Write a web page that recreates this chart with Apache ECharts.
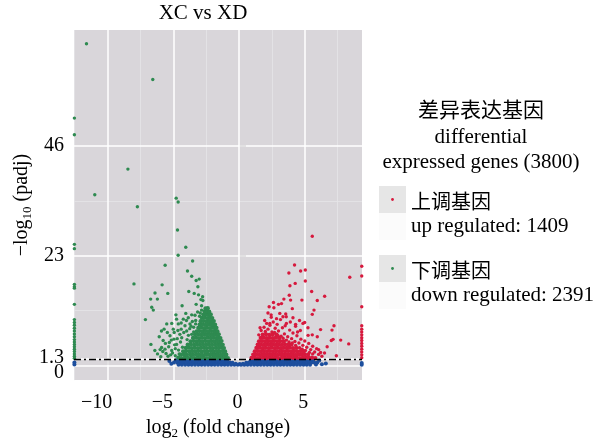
<!DOCTYPE html>
<html><head><meta charset="utf-8">
<script src="https://cdn.jsdelivr.net/npm/echarts@6/dist/echarts.min.js"></script>
<style>html,body{margin:0;padding:0;background:#fff}#c{width:596px;height:445px}</style>
</head><body><div id="c"></div>
<script>
// ---------- axis ticks / grid ----------
const xTicks = [-10, -5, 0, 5];
const yTicks = [0, 1.3, 23, 46];
const yLabelsUpper = [1.3, 23, 46];
const yLabelsLower = [0];
const xMinor = [-12.5, -7.5, -2.5, 2.5, 7.5];
const yMinor = [11.5, 34.5];
const threshold = 1.3;
const titleText = 'XC vs XD';
const legendHeader = ['差异表达基因', 'differential', 'expressed genes (3800)'];
const upLabel = ['上调基因', 'up regulated: 1409'];
const downLabel = ['下调基因', 'down regulated: 2391'];

// ---------- down regulated (green) ----------
const downSparse = [[-11.6,67.5],[-6.56,60.0],[-12.52,51.9],[-12.52,48.4],[-8.45,41.2],[-10.97,35.8],[-7.73,33.3],[-4.78,35.1],[-4.63,34.3],[-4.68,28.4],[-4.05,24.8],[-4.63,23.1],[-12.52,25.4],[-12.52,24.5],[-3.53,21.9],[-5.62,21.0],[-3.92,19.8],[-3.6,18.7],[-3.26,17.8],[-3.03,18.1],[-7.99,17.1],[-5.85,16.9],[-3.13,16.5],[-6.39,15.2],[-5.42,15.1],[-3.82,15.5],[-3.41,15.1],[-3.08,14.8],[-2.77,14.4],[-2.9,13.8],[-2.75,13.6],[-6.21,13.9],[-6.72,13.9],[-6.64,12.2],[-6.52,11.6],[-4.33,12.5],[-3.26,12.8],[-2.85,12.5],[-7.12,9.6]];
const downEdge = [[-12.52,17.0],[-12.52,16.5],[-12.52,16.2],[-12.52,12.8],[-12.52,9.6],[-12.52,9.0],[-12.52,8.4],[-12.52,7.8],[-12.52,7.2],[-12.52,6.6],[-12.52,6.0],[-12.52,5.4],[-12.52,4.9],[-12.52,4.4],[-12.52,3.9],[-12.52,3.4],[-12.52,2.9],[-12.52,2.4],[-12.52,1.9],[-12.52,1.5]];
const downMedium = [[-6.7,4.4],[-6.2,2.4],[-6.07,6.0],[-5.9,7.2],[-5.7,7.6],[-5.77,5.2],[-5.5,8.7],[-5.12,8.8],[-5.0,7.6],[-4.93,6.9],[-4.75,9.7],[-4.62,8.7],[-5.3,4.8],[-5.63,3.4],[-5.89,3.75],[-5.12,3.1],[-4.75,4.4],[-4.5,6.5],[-4.36,5.8],[-4.11,8.3],[-4.24,9.7],[-3.86,10.0],[-3.98,7.2],[-3.73,8.7],[-3.6,6.5],[-4.85,2.0],[-5.05,2.6],[-5.4,1.9],[-5.55,2.5],[-4.95,5.5],[-4.6,3.2],[-4.45,4.9],[-4.2,6.9],[-3.95,5.4],[-3.75,7.7],[-3.55,9.2],[-3.35,10.5],[-3.15,11.2],[-3.0,10.3],[-2.85,11.6],[-3.45,8.0],[-4.05,10.9],[-4.4,7.6],[-5.25,6.2],[-6.4,3.1],[-5.95,1.8],[-4.8,10.6],[-3.3,9.4],[-4.3,3.8],[-4.1,2.6],
[-5.8,2.9],[-5.35,3.9],[-5.15,5.3],[-4.9,4.3],[-4.7,5.6],[-4.55,2.4],[-4.85,3.5],[-4.4,8.9],[-4.0,9.4],[-3.85,6.3],[-3.65,8.2],[-3.45,7.0],[-3.3,8.7],[-3.6,10.6],[-2.95,11.0],[-4.65,7.3],[-5.45,6.9],[-5.6,4.6],[-6.0,3.3],[-5.2,2.2]];
const downCore = [
[-4.62,1.6],[-4.38,1.52],[-4.12,1.63],[-3.9,1.55],[-3.65,1.6],[-3.4,1.5],[-3.17,1.62],[-2.92,1.55],[-2.68,1.6],[-2.45,1.52],[-2.2,1.58],[-1.95,1.62],[-1.72,1.54],[-1.5,1.6],[-1.27,1.55],[-1.05,1.6],[-0.85,1.52],
[-4.45,2.25],[-4.2,2.3],[-3.97,2.2],[-3.72,2.28],[-3.5,2.22],[-3.26,2.3],[-3.03,2.24],[-2.8,2.2],[-2.56,2.28],[-2.33,2.25],[-2.1,2.3],[-1.86,2.22],[-1.63,2.27],[-1.4,2.2],[-1.18,2.28],[-0.97,2.24],
[-4.25,2.95],[-4.02,3.0],[-3.78,2.9],[-3.55,2.98],[-3.32,2.93],[-3.1,3.0],[-2.86,2.92],[-2.62,2.97],[-2.4,2.95],[-2.16,3.0],[-1.93,2.9],[-1.7,2.96],[-1.47,2.93],[-1.25,2.98],[-1.06,2.92],
[-4.05,3.65],[-3.82,3.7],[-3.6,3.62],[-3.37,3.68],[-3.13,3.6],[-2.9,3.66],[-2.67,3.7],[-2.45,3.63],[-2.22,3.67],[-2.0,3.6],[-1.77,3.68],[-1.55,3.64],[-1.33,3.7],[-1.15,3.62],
[-3.9,4.35],[-3.66,4.4],[-3.42,4.3],[-3.2,4.38],[-2.97,4.33],[-2.74,4.4],[-2.5,4.32],[-2.28,4.37],[-2.05,4.3],[-1.82,4.4],[-1.6,4.34],[-1.4,4.38],[-1.24,4.3],
[-3.68,5.05],[-3.45,5.1],[-3.22,5.0],[-3.0,5.08],[-2.77,5.02],[-2.54,5.1],[-2.32,5.04],[-2.1,5.07],[-1.88,5.0],[-1.66,5.08],[-1.47,5.03],[-1.33,5.1],
[-3.5,5.75],[-3.27,5.8],[-3.05,5.7],[-2.82,5.78],[-2.6,5.72],[-2.38,5.8],[-2.16,5.74],[-1.94,5.77],[-1.73,5.7],[-1.55,5.78],[-1.42,5.72],
[-3.35,6.45],[-3.12,6.5],[-2.9,6.4],[-2.68,6.48],[-2.46,6.42],[-2.24,6.5],[-2.02,6.44],[-1.82,6.47],[-1.66,6.4],[-1.54,6.5],
[-3.22,7.15],[-3.0,7.2],[-2.78,7.1],[-2.56,7.18],[-2.34,7.12],[-2.12,7.2],[-1.92,7.14],[-1.76,7.17],[-1.64,7.1],
[-3.1,7.85],[-2.88,7.9],[-2.66,7.8],[-2.44,7.88],[-2.22,7.82],[-2.01,7.9],[-1.85,7.84],[-1.72,7.87],
[-3.0,8.55],[-2.78,8.6],[-2.56,8.5],[-2.34,8.58],[-2.13,8.52],[-1.95,8.6],[-1.82,8.54],
[-2.92,9.25],[-2.7,9.3],[-2.48,9.2],[-2.27,9.28],[-2.08,9.22],[-1.92,9.3],
[-2.82,9.95],[-2.6,10.0],[-2.39,9.9],[-2.2,9.98],[-2.04,9.92],
[-2.72,10.65],[-2.5,10.7],[-2.32,10.6],[-2.15,10.68],
[-2.62,11.3],[-2.44,11.35],[-2.27,11.28],
[-2.55,11.95],[-2.38,12.0]];

// ---------- up regulated (red) ----------
const upSparse = [[5.57,27.1],[4.22,21.05],[3.79,19.4],[4.68,19.8],[5.04,20.0],[5.04,17.7],[3.87,16.7],[4.27,17.2],[5.52,15.5],[3.82,14.7],[3.41,13.9],[3.92,13.7],[4.78,13.7],[6.51,14.5],[5.95,13.6],[2.62,13.2],[3.0,12.8],[3.23,12.96],[2.29,12.3],[2.65,12.1],[4.05,11.9],[5.7,11.6],[2.44,10.6],[3.34,10.2],[3.59,10.2],[4.1,10.0],[5.57,10.7],[2.34,8.8],[4.3,8.6],[4.86,8.8],[4.99,9.0],[3.51,8.3],[5.24,7.9],[7.22,8.3],[7.07,7.4],[6.2,7.5],[4.66,7.3],[5.57,6.4],[5.95,6.0],[7.73,5.3],[7.02,5.2],[7.15,5.45],[8.34,4.5],[6.05,3.3],[6.2,2.7],[8.42,18.5]];
const upEdge = [[9.33,20.8],[9.33,18.75],[9.33,12.3],[9.33,8.3],[9.33,7.6],[9.33,7.0],[9.33,6.4],[9.33,5.8],[9.33,5.2],[9.33,4.6],[9.33,4.0],[9.33,3.4],[9.33,2.8],[9.33,2.2],[9.33,1.6]];
const upMedium = [[1.68,7.3],[1.9,8.0],[2.0,7.1],[2.2,7.6],[2.35,8.4],[2.5,7.0],[2.6,9.1],[2.75,7.8],[2.9,8.6],[3.0,7.2],[3.15,9.6],[3.3,7.9],[3.45,6.6],[3.6,8.8],[3.7,6.0],[3.85,7.4],[4.0,5.6],[4.1,6.8],[4.25,5.0],[4.4,6.2],[4.55,4.7],[4.7,5.5],[4.85,4.2],[5.0,5.1],[5.15,3.8],[5.3,4.6],[5.45,3.3],[5.6,4.0],[5.75,2.8],[5.9,3.5],[6.05,2.3],[6.3,1.9],[6.5,2.6],[3.55,10.8],[2.2,11.0],[1.95,9.4],[2.45,10.1],[4.3,8.2],[4.6,9.4],[5.25,6.3],[6.7,3.9],[7.4,2.0],
[1.5,6.4],[1.6,7.9],[2.1,8.8],[2.7,6.9],[2.95,6.3],[3.2,6.1],[3.35,5.7],[3.6,5.3],[3.8,4.9],[4.05,4.7],[4.3,4.2],[4.6,3.7],[4.8,3.4],[5.05,3.1],[5.35,2.7],[5.6,2.4],[3.1,10.9],[2.85,9.8],[3.9,9.1],[4.45,7.0]];
const upCore = [
[0.95,1.55],[1.18,1.6],[1.4,1.52],[1.63,1.58],[1.86,1.62],[2.09,1.54],[2.32,1.6],[2.55,1.55],[2.78,1.62],[3.01,1.52],[3.24,1.58],[3.47,1.6],[3.7,1.54],[3.93,1.62],[4.16,1.55],[4.39,1.6],[4.62,1.52],[4.85,1.58],[5.08,1.62],[5.31,1.55],[5.55,1.6],[5.8,1.53],
[1.08,2.25],[1.3,2.3],[1.53,2.2],[1.76,2.28],[1.99,2.22],[2.22,2.3],[2.45,2.24],[2.68,2.27],[2.91,2.2],[3.14,2.28],[3.37,2.23],[3.6,2.3],[3.83,2.22],[4.06,2.27],[4.29,2.2],[4.52,2.28],[4.76,2.24],[5.0,2.3],[5.25,2.22],
[1.2,2.95],[1.43,3.0],[1.66,2.9],[1.89,2.98],[2.12,2.93],[2.35,3.0],[2.58,2.92],[2.81,2.97],[3.04,2.9],[3.27,2.98],[3.5,2.94],[3.73,3.0],[3.96,2.92],[4.19,2.97],[4.42,2.9],[4.68,2.98],[4.92,2.93],
[1.32,3.65],[1.55,3.7],[1.78,3.6],[2.01,3.68],[2.24,3.63],[2.47,3.7],[2.7,3.62],[2.93,3.67],[3.16,3.6],[3.39,3.68],[3.62,3.64],[3.85,3.7],[4.1,3.62],[4.35,3.66],
[1.42,4.35],[1.65,4.4],[1.88,4.3],[2.11,4.38],[2.34,4.33],[2.57,4.4],[2.8,4.32],[3.03,4.37],[3.26,4.3],[3.5,4.38],[3.75,4.33],[3.98,4.4],
[1.52,5.05],[1.75,5.1],[1.98,5.0],[2.21,5.08],[2.44,5.02],[2.67,5.1],[2.9,5.04],[3.13,5.07],[3.4,5.0],
[1.65,5.75],[1.88,5.8],[2.11,5.7],[2.34,5.78],[2.57,5.72],[2.8,5.8],[3.05,5.74],
[1.8,6.45],[2.05,6.5],[2.3,6.4],[2.55,6.48],[2.85,6.42]];

// ---------- not significant (blue) ----------
const nsBand = [
[-4.8,1.05],[-4.55,1.05],[-4.3,1.05],[-4.05,1.05],[-3.8,1.05],[-3.55,1.05],[-3.3,1.05],[-3.05,1.05],[-2.8,1.05],[-2.55,1.05],[-2.3,1.05],[-2.05,1.05],[-1.8,1.05],[-1.55,1.05],[-1.3,1.05],[-1.05,1.05],[-0.9,1.0],
[0.9,1.0],[1.12,1.05],[1.37,1.05],[1.62,1.05],[1.87,1.05],[2.12,1.05],[2.37,1.05],[2.62,1.05],[2.87,1.05],[3.12,1.05],[3.37,1.05],[3.62,1.05],[3.87,1.05],[4.12,1.05],[4.37,1.05],[4.62,1.05],[4.87,1.05],[5.12,1.05],[5.37,1.05],[5.6,1.05],
[-4.95,0.58],[-4.7,0.58],[-4.45,0.58],[-4.2,0.58],[-3.95,0.58],[-3.7,0.58],[-3.45,0.58],[-3.2,0.58],[-2.95,0.58],[-2.7,0.58],[-2.45,0.58],[-2.2,0.58],[-1.95,0.58],[-1.7,0.58],[-1.45,0.58],[-1.2,0.58],[-0.95,0.58],[-0.7,0.58],[-0.5,0.52],
[0.55,0.52],[0.75,0.58],[1.0,0.58],[1.25,0.58],[1.5,0.58],[1.75,0.58],[2.0,0.58],[2.25,0.58],[2.5,0.58],[2.75,0.58],[3.0,0.58],[3.25,0.58],[3.5,0.58],[3.75,0.58],[4.0,0.58],[4.25,0.58],[4.5,0.58],[4.75,0.58],[5.0,0.58],[5.25,0.58],[5.5,0.58],[5.72,0.58],
[-4.6,0.12],[-4.35,0.12],[-4.1,0.12],[-3.85,0.12],[-3.6,0.12],[-3.35,0.12],[-3.1,0.12],[-2.85,0.12],[-2.6,0.12],[-2.35,0.12],[-2.1,0.12],[-1.85,0.12],[-1.6,0.12],[-1.35,0.12],[-1.1,0.12],[-0.85,0.12],[-0.6,0.12],[-0.35,0.12],[-0.1,0.12],[0.15,0.12],[0.4,0.12],[0.65,0.12],[0.9,0.12],[1.15,0.12],[1.4,0.12],[1.65,0.12],[1.9,0.12],[2.15,0.12],[2.4,0.12],[2.65,0.12],[2.9,0.12],[3.15,0.12],[3.4,0.12],[3.65,0.12],[3.9,0.12],[4.15,0.12],[4.4,0.12],[4.65,0.12],[4.9,0.12],[5.15,0.12],[5.4,0.12],
[-0.25,0.35],[0.05,0.3],[0.3,0.35],
[-5.3,0.9],[-5.15,0.35],[5.95,0.6],[6.1,1.0],[6.3,0.25],[6.6,0.4],[5.85,0.15],
[-12.52,0.6],[-12.52,0.2],[9.33,0.5],[9.33,0.1]];

// ---------- styling ----------
const F = "'Liberation Serif','Times New Roman','Noto Sans CJK SC',serif";
const CJK = "'Noto Sans CJK SC','Liberation Serif',serif";
const C_UP = '#d7193d', C_DOWN = '#2e8a50', C_NS = '#1d4f9e';
const Y_MIN = -3.1, Y_MAX = 70.4;

function keyIcon(color) {
  const svg = '<svg xmlns="http://www.w3.org/2000/svg" width="27" height="56">' +
    '<rect x="0" y="0" width="27" height="27" fill="#e6e6e6"/>' +
    '<rect x="0" y="27" width="27" height="27" fill="#fbfbfb"/>' +
    '<circle cx="13.5" cy="13.5" r="1.4" fill="' + color + '"/></svg>';
  return 'image://data:image/svg+xml;charset=utf-8,' + encodeURIComponent(svg);
}

const gridLines = []
  .concat(xMinor.map(v => ({ xAxis: v, lineStyle: { color: '#e6e4e7', width: 0.8, type: 'solid' } })))
  .concat(yMinor.map(v => ({ yAxis: v, lineStyle: { color: '#e6e4e7', width: 0.8, type: 'solid' } })))
  .concat(xTicks.map(v => ({ xAxis: v, lineStyle: { color: '#ffffff', width: 1.5, type: 'solid' } })))
  .concat(yTicks.map(v => ({ yAxis: v, lineStyle: { color: '#ffffff', width: 1.5, type: 'solid' } })));

const dot = (name, data, color, size) => ({ name: name, type: 'scatter', data: data, symbolSize: size,
  itemStyle: { color: color, opacity: 1 }, z: 3, silent: true });

const yLabelStyle = { fontFamily: F, fontSize: 20, color: '#000' };

const chart = echarts.init(document.getElementById('c'));
chart.setOption({
  animation: false,
  backgroundColor: '#ffffff',
  title: [
    { text: titleText, left: 203, top: 3, textAlign: 'center', padding: 0,
      textStyle: { fontFamily: F, fontSize: 21, fontWeight: 'normal', color: '#000' } },
    { text: legendHeader.join('\n'), left: 481, top: 99, textAlign: 'center', padding: 0,
      textStyle: { fontFamily: F, fontSize: 21, lineHeight: 25.5, fontWeight: 'normal', color: '#000' } }
  ],
  legend: {
    orient: 'vertical', left: 379, top: 186, padding: 0,
    itemWidth: 27, itemHeight: 56, itemGap: 13, selectedMode: false,
    data: [{ name: 'up', icon: keyIcon(C_UP) }, { name: 'down', icon: keyIcon(C_DOWN) }],
    formatter: n => n === 'up' ? '{a|' + upLabel[0] + '}\n{b|' + upLabel[1] + '}'
                               : '{a|' + downLabel[0] + '}\n{b|' + downLabel[1] + '}',
    textStyle: {
      color: '#000',
      rich: {
        a: { fontFamily: CJK, fontSize: 20, lineHeight: 25, color: '#000' },
        b: { fontFamily: F, fontSize: 21, lineHeight: 25, color: '#000' }
      }
    }
  },
  grid: { left: 74, top: 30, width: 288, height: 353, show: true, backgroundColor: '#d9d6da', borderWidth: 0 },
  xAxis: {
    type: 'value', min: -12.55, max: 9.35,
    splitLine: { show: false }, axisLine: { show: false },
    axisTick: { show: true, inside: true, length: 6, customValues: xTicks, lineStyle: { color: '#707070', width: 1.5 } },
    axisLabel: {
      customValues: xTicks, margin: 13, color: '#000', fontFamily: F, fontSize: 20, hideOverlap: false,
      formatter: v => v < 0 ? '{n|\u2212' + Math.abs(v) + '}' : '{p|' + v + '}',
      rich: {
        n: { fontFamily: F, fontSize: 20, color: '#000', padding: [0, 22, 0, 0] },
        p: { fontFamily: F, fontSize: 20, color: '#000', padding: [0, 3, 0, 0] }
      }
    },
    name: '{a|log}{s|2}{a| (fold change)}', nameLocation: 'middle', nameGap: 35,
    nameTextStyle: {
      rich: {
        a: { fontFamily: F, fontSize: 20, lineHeight: 24, color: '#000' },
        s: { fontFamily: F, fontSize: 13, color: '#000', verticalAlign: 'bottom', padding: [7, 0, 0, 0] }
      }
    }
  },
  yAxis: [{
    type: 'value', min: Y_MIN, max: Y_MAX,
    splitLine: { show: false }, axisLine: { show: false },
    axisTick: { show: true, inside: true, length: 7, customValues: yTicks, lineStyle: { color: '#707070', width: 1.5 } },
    axisLabel: {
      customValues: yLabelsUpper, margin: 10, color: '#000', fontFamily: F, fontSize: 20, hideOverlap: false,
      formatter: v => v === 1.3 ? '{u|1.3}' : '{m|' + v + '}',
      rich: {
        u: Object.assign({ padding: [0, 0, 2, 0] }, yLabelStyle),
        m: yLabelStyle
      }
    },
    name: '{a|\u2212log}{s|10}{a| (padj)}', nameLocation: 'middle', nameGap: 40, nameRotate: 90,
    nameTextStyle: {
      rich: {
        a: { fontFamily: F, fontSize: 20, lineHeight: 24, color: '#000' },
        s: { fontFamily: F, fontSize: 13, color: '#000', verticalAlign: 'bottom', padding: [7, 0, 0, 0] }
      }
    }
  }, {
    type: 'value', min: Y_MIN, max: Y_MAX, position: 'left',
    splitLine: { show: false }, axisLine: { show: false }, axisTick: { show: false },
    axisLabel: {
      customValues: yLabelsLower, margin: 10, color: '#000', fontFamily: F, fontSize: 20,
      formatter: v => '{d|' + v + '}',
      rich: { d: Object.assign({ padding: [14, 0, 0, 0] }, yLabelStyle) }
    }
  }],
  series: [
    { name: 'gridlines', type: 'scatter', data: [], silent: true, z: 1,
      markLine: { z: 1, silent: true, symbol: ['none', 'none'], label: { show: false }, animation: false, data: gridLines } },
    dot('ns', nsBand, C_NS, 4),
    dot('down', downCore, C_DOWN, 4.3),
    dot('down', downMedium.concat(downSparse, downEdge), C_DOWN, 3.4),
    dot('up', upCore, C_UP, 4.3),
    dot('up', upMedium.concat(upSparse, upEdge), C_UP, 3.4),
    { name: 'threshold', type: 'scatter', data: [], silent: true, z: 10,
      markLine: { z: 10, silent: true, symbol: ['none', 'none'], label: { show: false }, animation: false,
        lineStyle: { color: '#000', width: 1.3, type: [7, 3, 2, 3] }, data: [{ yAxis: threshold }] } }
  ]
});
</script></body></html>
